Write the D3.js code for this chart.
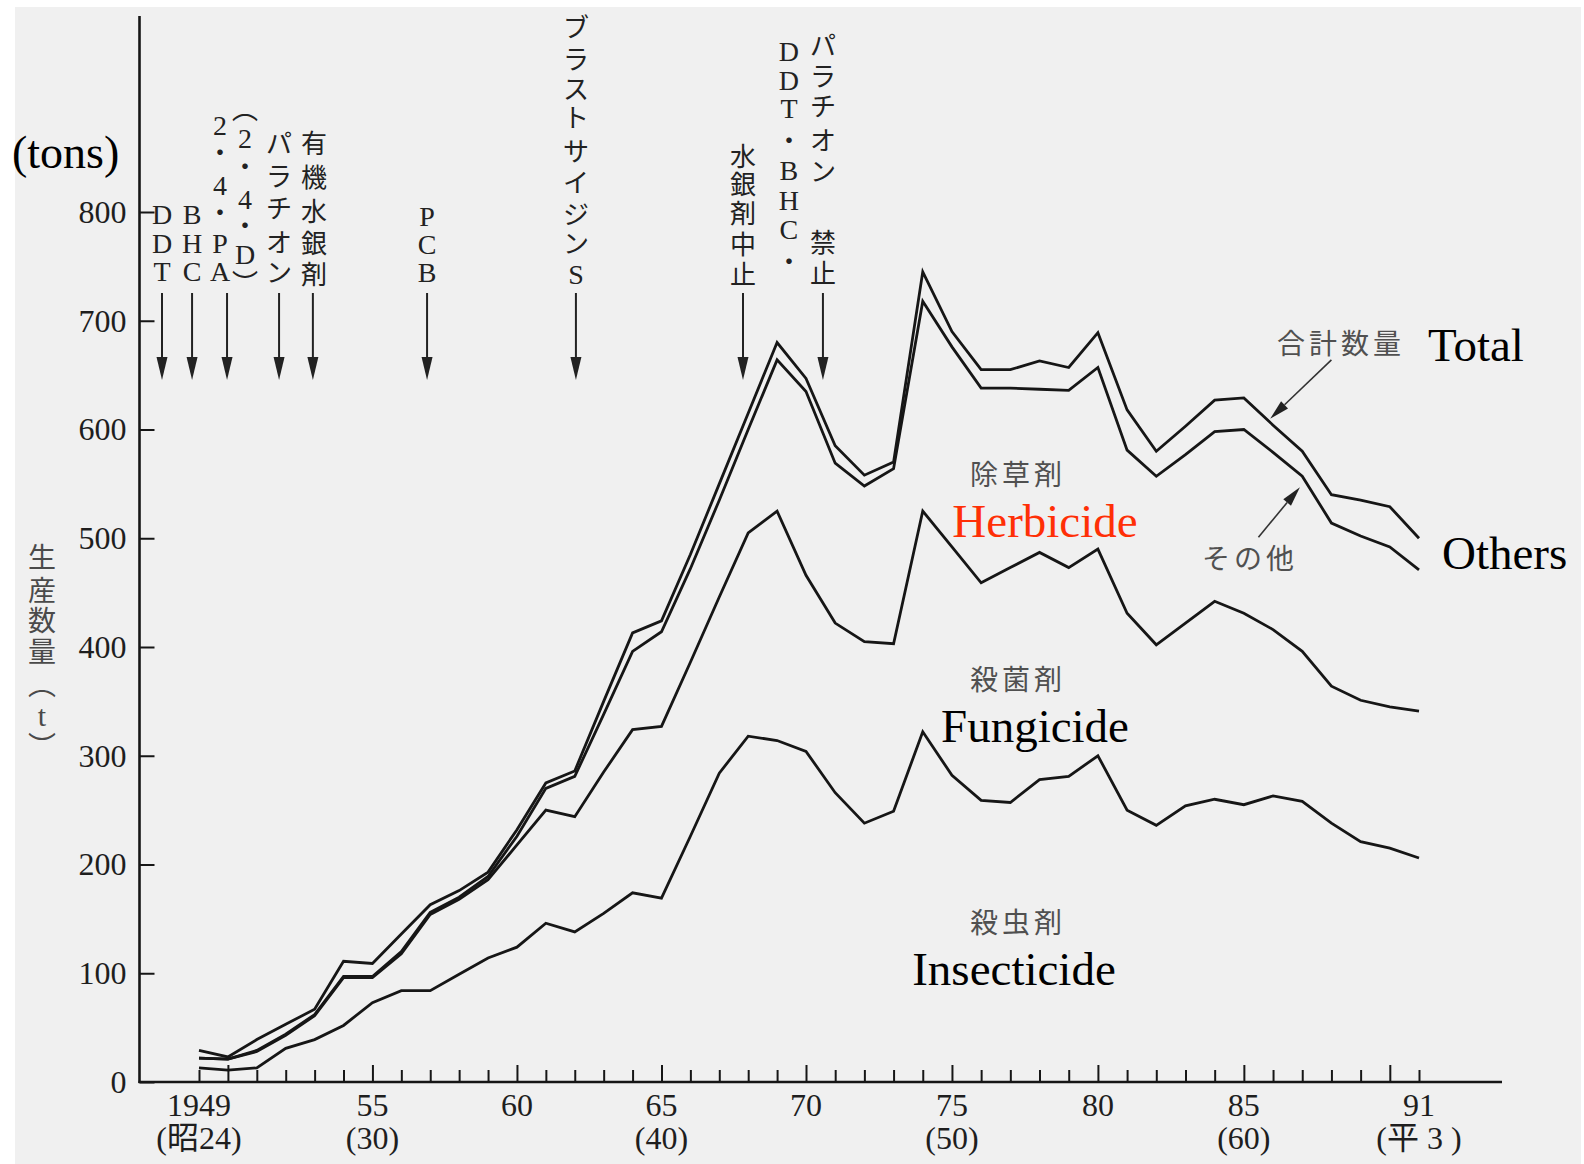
<!DOCTYPE html>
<html><head><meta charset="utf-8">
<script src="https://cdn.jsdelivr.net/npm/d3@7"></script>
<style>
html,body{margin:0;padding:0;background:#fff;}
svg{display:block;}
</style></head><body>
<svg id="chart" width="1584" height="1164"></svg>
<script>
// ---------- DATA ----------
const years = [1949,1950,1951,1952,1953,1954,1955,1956,1957,1958,
               1959,1960,1961,1962,1963,1964,1965,1966,1967,1968,
               1969,1970,1971,1972,1973,1974,1975,1976,1977,1978,
               1979,1980,1981,1982,1983,1984,1985,1986,1987,1988,
               1989,1990,1991];
const insecticide = [13,11,13,31,39,52,73,84,84,99,
                     114,124,146,138,155,174,169,226,284,318,
                     314,304,266,238,249,322,282,259,257,278,
                     281,300,250,236,254,260,255,263,258,238,
                     221,215,206];
const fungicide = [9,10,15,12,22,44,23,34,70,69,
                   72,94,104,106,130,150,158,160,162,187,
                   211,162,156,167,154,203,210,200,216,209,
                   192,190,181,166,168,182,176,153,138,126,
                   130,130,135];
const herbicide = [0,0,1,1,1,1,1,2,2,2,
                   3,8,20,37,53,72,87,86,89,95,
                   139,169,147,143,161,193,184,179,165,150,
                   163,167,150,155,155,156,169,163,161,150,
                   151,147,130];
const others = [7,2,10,9,5,14,12,16,7,6,
                4,6,5,5,12,17,10,13,15,15,
                16,12,16,10,6,27,14,17,17,26,
                21,32,37,23,26,29,29,25,23,26,
                33,37,29];
const seriesKeys = ["insecticide","fungicide","herbicide","others"];
const seriesJa = ["殺虫剤","殺菌剤","除草剤","その他"];
const seriesEn = ["Insecticide","Fungicide","Herbicide","Others"];
const totalJa = "合計数量", totalEn = "Total";
const yTicks = [0,100,200,300,400,500,600,700,800];
const xLabelYears = [1949,1955,1960,1965,1970,1975,1980,1985,1991];
const xLabelTop = ["1949","55","60","65","70","75","80","85","91"];
const xLabelBottom = ["(昭24)","(30)","","(40)","","(50)","","(60)","(平 3 )"];
const eventYears = [1947.72,1948.76,1949.97,1951.77,1952.94,1956.89,1962.04,1967.82,1970.58];
const eventLabels = [["DDT"],["BHC"],["2・4・PA","︵2・4・D︶"],["パラチオン"],["有機水銀剤"],
                     ["PCB"],["ブラストサイジンS"],["水銀剤中止"],["DDT・BHC・","パラチオン禁止"]];

// ---------- LAYOUT ----------
const eventLayout = [
  [{dx:0, ys:[214,243,271]}],
  [{dx:0, ys:[214,243,271]}],
  [{dx:-7, ys:[125,153,185,213,243,271]},{dx:18, ys:[110,138,167,199,226,254,284]}],
  [{dx:0, ys:[144,177,209,243,273]}],
  [{dx:1, ys:[144,178,212,244,275]}],
  [{dx:0, ys:[216,244,272]}],
  [{dx:0, ys:[28,60,90,118,152,183,215,244,274]}],
  [{dx:0, ys:[157,185,214,245,275]}],
  [{dx:-34, ys:[51,80,108,141,170,200,229,262]},{dx:0, ys:[46,77,107,141,172,243,274]}]
];
const serifFont = "'Liberation Serif','Times New Roman',serif";
const mixFont = "'Liberation Serif','Noto Sans CJK JP',serif";
const jpFont = "'Noto Sans CJK JP',sans-serif";

const svg = d3.select("#chart");
svg.append("rect").attr("x",15).attr("y",7).attr("width",1566).attr("height",1157).attr("fill","#f0f0f0");

const x = d3.scaleLinear().domain([1949,1970,1991]).range([199,806,1419]);
const y = d3.scaleLinear().domain([0,800]).range([1082,212]);

const rows = years.map((yr,i)=>({year:yr, insecticide:insecticide[i], fungicide:fungicide[i], herbicide:herbicide[i], others:others[i]}));
const stacked = d3.stack().keys(seriesKeys)(rows);

const ink = "#161616";

// axes lines
svg.append("line").attr("x1",139.5).attr("x2",139.5).attr("y1",16).attr("y2",1083)
  .attr("stroke",ink).attr("stroke-width",2.6);
svg.append("line").attr("x1",138.5).attr("x2",1502).attr("y1",1082).attr("y2",1082)
  .attr("stroke",ink).attr("stroke-width",2.6);

// y axis
const yAxis = svg.append("g").attr("transform","translate(139.5,0)")
  .call(d3.axisLeft(y).tickValues(yTicks).tickSizeInner(-15).tickSizeOuter(0).tickPadding(13));
yAxis.select(".domain").remove();
yAxis.selectAll(".tick line").attr("stroke",ink).attr("stroke-width",2);
yAxis.selectAll(".tick text").attr("font-family",serifFont).attr("font-size",32).attr("fill","#1e1e1e");

// x axis ticks
const xAxis = svg.append("g").attr("transform","translate(0,1082)")
  .call(d3.axisBottom(x).tickValues(years).tickSizeInner(-12).tickSizeOuter(0).tickFormat(""));
xAxis.select(".domain").remove();
xAxis.selectAll(".tick line").attr("stroke",ink).attr("stroke-width",2)
  .attr("y2", d => d % 5 === 0 ? -17 : -12);

// x labels
const xl = svg.append("g").attr("font-family",mixFont).attr("font-size",32).attr("fill","#1e1e1e").attr("text-anchor","middle");
xLabelYears.forEach((yr,i)=>{
  xl.append("text").attr("x",x(yr)).attr("y",1116).text(xLabelTop[i]);
  if (xLabelBottom[i]) xl.append("text").attr("x",x(yr)).attr("y",1149).text(xLabelBottom[i]);
});

// data lines
const line = d3.line().x(d=>x(d.data.year)).y(d=>y(d[1]));
svg.append("g").selectAll("path").data(stacked).join("path")
  .attr("d",line).attr("fill","none").attr("stroke",ink).attr("stroke-width",2.8)
  .attr("stroke-linejoin","miter");

// vertical text helper
const isLatin = c => /[A-Za-z0-9]/.test(c);
function vText(g, cx, str, ys, fill, latinSize, cjkSize){
  const t = g.append("text").attr("text-anchor","middle").attr("fill",fill)
    .attr("font-family",mixFont).attr("dominant-baseline","central");
  Array.from(str).forEach((c,i)=>{
    t.append("tspan").attr("x",cx).attr("y",ys[i]).attr("dominant-baseline","central")
      .attr("font-size", isLatin(c)?latinSize:cjkSize).text(c);
  });
}

// event annotations
const ev = svg.append("g");
eventYears.forEach((yr,i)=>{
  const ax = x(yr);
  eventLabels[i].forEach((lab,j)=>{
    const L = eventLayout[i][j];
    vText(ev, ax+L.dx, lab, L.ys, "#222", 28, 26);
  });
  ev.append("line").attr("x1",ax).attr("x2",ax).attr("y1",293).attr("y2",362)
    .attr("stroke","#222").attr("stroke-width",2);
  ev.append("path").attr("d",`M${ax-5.5},357L${ax+5.5},357L${ax},380Z`).attr("fill","#222");
});

// axis titles
svg.append("text").attr("x",12).attr("y",168).attr("font-family",serifFont).attr("font-size",46)
  .attr("fill","#000").text("(tons)");
vText(svg, 42, "生産数量︵t︶", [558,591,621,652,685,715,747], "#4a4a4a", 30, 28);

// series labels
const jaPos = [[1016,921],[1016,678],[1016,473],[1248,557]];
const enPos = [[1014,985,"middle"],[1035,742,"middle"],[1045,537,"middle"],[1442,569,"start"]];
const enColor = ["#000","#000","#ff2f06","#000"];
seriesKeys.forEach((k,i)=>{
  svg.append("text").attr("x",jaPos[i][0]+2).attr("y",jaPos[i][1]).attr("text-anchor","middle")
    .attr("dominant-baseline","central").attr("font-family",jpFont).attr("font-size",28)
    .attr("letter-spacing",4).attr("fill","#505050").text(seriesJa[i]);
  svg.append("text").attr("x",enPos[i][0]).attr("y",enPos[i][1]).attr("text-anchor",enPos[i][2])
    .attr("font-family",serifFont).attr("font-size",47).attr("fill",enColor[i]).text(seriesEn[i]);
});
svg.append("text").attr("x",1341).attr("y",342).attr("text-anchor","middle")
  .attr("dominant-baseline","central").attr("font-family",jpFont).attr("font-size",28)
  .attr("letter-spacing",4).attr("fill","#505050").text(totalJa);
svg.append("text").attr("x",1428).attr("y",361).attr("font-family",serifFont)
  .attr("font-size",47).attr("fill","#000").text(totalEn);

// pointer arrows (year/value coordinates)
function pointer(fromYr, fromV, toYr, toV){
  const x1=x(fromYr), y1=y(fromV), x2=x(toYr), y2=y(toV);
  const ang = Math.atan2(y2-y1, x2-x1), len=20, hw=5;
  const bx = x2 - len*Math.cos(ang), by = y2 - len*Math.sin(ang);
  svg.append("line").attr("x1",x1).attr("y1",y1).attr("x2",bx).attr("y2",by)
    .attr("stroke","#333").attr("stroke-width",1.6);
  const px = -Math.sin(ang)*hw, py = Math.cos(ang)*hw;
  svg.append("path").attr("d",`M${x2},${y2}L${bx+px},${by+py}L${bx-px},${by-py}Z`).attr("fill","#222");
}
pointer(1988.0, 664, 1985.9, 610);
pointer(1985.5, 501, 1986.92, 547);
</script>
</body></html>
